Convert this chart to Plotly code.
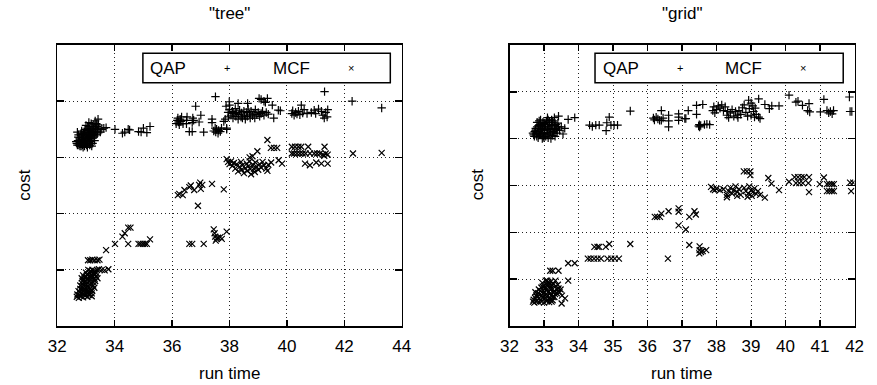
import plotly.graph_objects as go

# ---------------- data (run time, cost in plot units) ----------------
tree_qap = [
    (32.68,3.25),(32.72,3.30),(32.75,3.22),(32.78,3.35),(32.80,3.27),(32.83,3.20),(32.85,3.32),(32.87,3.40),
    (32.90,3.25),(32.92,3.35),(32.95,3.20),(32.95,3.45),(32.98,3.30),(33.00,3.40),(33.02,3.22),(33.03,3.50),
    (33.05,3.33),(33.07,3.27),(33.08,3.44),(33.10,3.55),(33.12,3.38),(33.13,3.22),(33.15,3.48),(33.17,3.30),
    (33.18,3.60),(33.20,3.42),(33.22,3.52),(33.23,3.25),(33.25,3.35),(33.27,3.58),(33.28,3.45),(33.30,3.30),
    (33.32,3.65),(33.33,3.50),(33.35,3.40),(33.38,3.55),(33.40,3.47),(33.42,3.68),(33.45,3.52),(33.50,3.45),
    (33.55,3.50),(33.62,3.52),(33.70,3.53),(32.70,3.45),(32.85,3.47),(33.00,3.57),(33.10,3.62),(32.90,3.18),
    (33.05,3.18),(33.20,3.20),
    (32.66,3.28),(32.70,3.22),(32.73,3.36),(32.76,3.28),(32.79,3.20),(32.82,3.42),(32.84,3.24),(32.86,3.36),
    (32.89,3.30),(32.91,3.42),(32.93,3.27),(32.96,3.38),(32.99,3.24),(33.01,3.33),(33.04,3.42),(33.06,3.24),
    (33.09,3.35),(33.11,3.48),(33.14,3.28),(33.16,3.40),(33.19,3.34),(33.21,3.46),(33.24,3.40),(33.26,3.50),
    (33.29,3.38),(33.31,3.55),(33.34,3.45),(33.36,3.60),(33.39,3.42),(33.43,3.58),(32.74,3.40),(32.97,3.50),
    (33.06,3.52),(32.88,3.22),(33.00,3.28),(33.15,3.25),
    (34.01,3.50),(34.27,3.43),(34.35,3.45),(34.47,3.50),(34.52,3.49),(34.83,3.46),(34.92,3.45),(35.00,3.52),
    (35.12,3.44),(35.23,3.55),
    (36.14,3.60),(36.18,3.66),(36.20,3.70),(36.22,3.63),(36.25,3.58),(36.28,3.68),(36.30,3.64),(36.33,3.72),
    (36.38,3.60),(36.50,3.66),(36.52,3.72),(36.50,3.60),(36.70,3.62),(36.72,3.70),(36.75,3.66),(36.60,3.46),
    (36.70,3.46),(36.82,3.91),(37.00,3.75),(36.94,3.63),(37.10,3.45),(37.39,3.68),(37.39,3.62),(37.51,4.08),
    (37.45,3.47),(37.50,3.52),(37.52,3.45),(37.55,3.50),(37.60,3.43),(37.62,3.48),(37.68,3.46),(37.72,3.52),
    (37.90,3.50),(37.88,3.91),(37.96,3.72),(37.80,3.64),(37.85,3.68),
    (37.95,3.80),(38.00,3.85),(38.05,3.75),(38.10,3.82),(38.12,3.70),(38.15,3.78),(38.20,3.87),(38.22,3.73),
    (38.25,3.80),(38.30,3.68),(38.32,3.76),(38.35,3.84),(38.40,3.72),(38.42,3.79),(38.45,3.70),(38.50,3.82),
    (38.52,3.75),(38.55,3.68),(38.60,3.80),(38.62,3.73),(38.65,3.86),(38.70,3.77),(38.72,3.70),(38.75,3.82),
    (38.80,3.74),(38.85,3.79),(38.88,3.70),(38.90,3.85),(38.95,3.76),(39.00,3.80),(39.05,3.73),(39.10,3.78),
    (39.15,3.82),(39.20,3.75),(39.28,3.80),(39.35,3.77),
    (37.99,3.99),(38.00,3.93),(38.30,3.96),(38.63,3.96),(39.03,4.05),(39.10,4.03),(39.20,4.00),(39.32,4.05),
    (39.25,3.98),(39.49,3.93),(39.54,3.70),(39.77,3.83),(39.70,3.84),(37.90,3.52),
    (40.17,3.78),(40.20,3.83),(40.25,3.75),(40.30,3.80),(40.35,3.77),(40.40,3.82),(40.45,3.76),(40.50,3.93),
    (40.55,3.79),(40.60,3.85),(40.70,3.78),(40.85,3.80),(40.95,3.84),(41.00,3.78),(41.10,3.86),(41.20,3.82),
    (41.25,3.75),(41.30,3.70),(41.35,3.80),(41.40,3.72),(41.42,3.85),(41.31,4.17),(42.27,4.00),(43.30,3.88),
]

tree_mcf = [
    (32.68,0.52),(32.75,0.50),(32.82,0.53),(32.90,0.51),(32.98,0.54),(33.05,0.52),(33.12,0.55),(33.20,0.53),
    (32.78,0.60),(32.85,0.65),(32.92,0.62),(33.00,0.68),(33.08,0.62),(33.15,0.66),(33.22,0.63),(32.80,0.72),
    (32.88,0.75),(32.95,0.78),(33.02,0.74),(33.10,0.80),(33.18,0.76),(33.25,0.72),(32.85,0.85),(32.92,0.82),
    (33.00,0.88),(33.08,0.92),(33.15,0.86),(33.22,0.90),(33.30,0.84),(33.00,0.95),(33.08,1.00),(33.15,0.98),
    (33.22,1.00),(33.30,0.97),(33.38,1.00),(33.45,1.01),(33.55,1.00),(33.65,0.99),(33.78,1.01),(33.20,0.58),
    (33.30,0.92),(32.90,0.90),(33.05,0.58),(33.35,0.88),
    (32.70,0.56),(32.74,0.62),(32.77,0.55),(32.80,0.66),(32.83,0.58),(32.86,0.70),(32.89,0.57),(32.91,0.72),
    (32.94,0.66),(32.97,0.58),(32.99,0.80),(33.01,0.62),(33.04,0.70),(33.06,0.84),(33.09,0.68),(33.11,0.58),
    (33.13,0.74),(33.16,0.82),(33.19,0.64),(33.21,0.86),(33.24,0.78),(33.27,0.94),(33.29,0.68),(33.32,0.80),
    (33.36,0.94),(33.40,0.85),(32.94,0.86),(33.03,0.91),(33.12,0.94),(33.18,0.90),(32.88,0.80),(33.26,0.98),
    (33.07,1.17),(33.15,1.17),(33.22,1.18),(33.30,1.17),(33.40,1.17),(33.47,1.18),
    (33.70,1.35),(34.01,1.46),(34.27,1.59),(34.35,1.65),(34.47,1.75),(34.55,1.75),(34.47,1.46),(34.83,1.46),
    (34.90,1.46),(34.98,1.46),(35.05,1.46),(35.12,1.46),(35.23,1.54),
    (36.20,2.33),(36.25,2.35),(36.37,2.33),(36.43,2.42),(36.60,2.47),(36.65,2.50),(36.77,2.42),(36.94,2.51),
    (37.05,2.51),(37.00,2.44),(36.98,2.55),(37.39,2.53),(37.80,2.43),(36.90,2.14),
    (36.60,1.46),(36.70,1.46),(37.10,1.46),(37.45,1.72),(37.48,1.65),(37.50,1.59),(37.52,1.52),(37.55,1.55),
    (37.60,1.57),(37.68,1.58),(37.73,1.55),(37.90,1.68),
    (37.90,2.97),(37.95,2.92),(38.00,2.88),(38.05,2.93),(38.10,2.85),(38.15,2.90),(38.20,2.80),(38.25,2.88),
    (38.30,2.75),(38.35,2.83),(38.40,2.92),(38.42,2.78),(38.45,2.86),(38.50,2.72),(38.55,2.81),(38.60,2.89),
    (38.62,2.76),(38.65,2.84),(38.70,2.93),(38.72,2.79),(38.75,2.70),(38.80,2.87),(38.85,2.80),(38.88,2.74),
    (38.90,2.91),(38.95,2.83),(39.00,2.78),(39.05,2.88),(39.10,2.82),(39.15,2.92),(39.20,2.86),(39.28,2.80),
    (39.35,2.87),(38.97,3.11),(38.70,3.00),(38.80,3.02),(39.32,3.31),(39.44,3.17),(39.55,3.17),(39.66,3.17),
    (39.71,2.95),(39.83,2.89),(39.32,2.76),(39.45,2.91),
    (40.17,3.19),(40.28,3.19),(40.40,3.19),(40.50,3.19),(40.74,3.19),(40.17,3.07),(40.25,3.07),(40.35,3.07),
    (40.45,3.07),(40.55,3.07),(40.65,3.07),(40.80,3.07),(40.95,3.07),(41.05,3.07),(41.15,3.07),(41.25,3.05),
    (41.35,3.07),(41.42,3.05),(41.30,3.03),(40.63,2.89),(40.80,2.86),(41.02,2.91),(41.20,2.89),(41.42,2.89),
    (41.31,3.19),(42.30,3.07),(43.30,3.08),
]

grid_qap = [
    (32.68,4.12),(32.72,4.05),(32.75,4.18),(32.78,4.10),(32.80,4.25),(32.83,4.02),(32.85,4.15),(32.88,4.30),
    (32.90,4.08),(32.92,4.20),(32.95,4.00),(32.97,4.35),(33.00,4.12),(33.02,4.25),(33.05,4.05),(33.07,4.38),
    (33.10,4.18),(33.12,4.02),(33.15,4.30),(33.17,4.10),(33.20,4.22),(33.22,4.40),(33.25,4.07),(33.27,4.15),
    (33.30,4.28),(33.32,4.05),(33.35,4.20),(33.38,4.12),(33.40,4.33),(33.45,4.18),(33.50,4.25),(33.55,4.10),
    (32.90,4.40),(33.10,4.45),(32.80,4.35),(33.30,4.45),(33.00,4.02),(33.20,4.00),(33.60,4.22),
    (32.70,4.08),(32.73,4.15),(32.76,4.22),(32.79,4.05),(32.82,4.12),(32.84,4.28),(32.87,4.08),(32.89,4.18),
    (32.91,4.28),(32.94,4.12),(32.96,4.22),(32.99,4.05),(33.01,4.18),(33.04,4.30),(33.06,4.12),(33.09,4.25),
    (33.11,4.08),(33.14,4.20),(33.16,4.35),(33.19,4.14),(33.21,4.28),(33.24,4.20),(33.26,4.34),(33.29,4.12),
    (33.31,4.22),(33.34,4.30),(33.37,4.18),(33.42,4.25),(32.86,4.38),(33.00,4.32),(33.12,4.40),(33.25,4.38),
    (33.42,4.48),(33.70,4.41),(33.89,4.45),(34.32,4.29),(34.40,4.26),(34.50,4.29),(34.60,4.29),(34.82,4.34),
    (34.80,4.17),(34.89,4.46),(34.94,4.29),(35.03,4.29),(35.13,4.29),(35.50,4.59),
    (36.17,4.44),(36.20,4.40),(36.25,4.46),(36.30,4.42),(36.35,4.39),(36.40,4.60),(36.40,4.39),(36.45,4.44),
    (36.61,4.50),(36.61,4.38),(36.61,4.25),(36.90,4.53),(36.90,4.46),(36.90,4.39),(37.11,4.43),(37.08,4.43),
    (37.18,4.60),(37.42,4.71),(37.42,4.52),(37.60,4.73),
    (37.48,4.27),(37.51,4.25),(37.54,4.28),(37.50,4.30),(37.65,4.30),(37.72,4.31),(37.80,4.30),
    (37.89,4.60),(37.92,4.68),(37.95,4.55),(38.00,4.62),(38.05,4.70),(38.10,4.65),(38.15,4.72),(38.20,4.60),
    (38.25,4.68),(38.30,4.50),(38.32,4.58),(38.35,4.45),(38.40,4.55),(38.45,4.62),(38.50,4.48),(38.55,4.58),
    (38.60,4.50),(38.62,4.45),(38.65,4.60),(38.70,4.52),(38.75,4.66),(38.80,4.72),(38.85,4.56),(38.90,4.48),
    (38.93,4.82),(38.95,4.64),(39.00,4.76),(39.00,4.50),(39.05,4.70),(39.07,4.58),(39.10,4.46),(39.12,4.65),
    (39.15,4.52),(39.22,4.85),(39.22,4.46),(39.26,4.43),
    (39.40,4.73),(39.53,4.64),(39.60,4.70),(39.81,4.70),(40.10,4.93),(40.30,4.78),(40.36,4.80),(40.49,4.71),
    (40.64,4.60),(40.68,4.75),(40.70,4.57),(41.01,4.57),(41.11,4.84),(41.20,4.60),(41.25,4.55),(41.30,4.58),
    (41.35,4.53),(41.39,4.60),(41.85,4.89),(41.87,4.58),(41.92,4.58),
]

grid_mcf = [
    (32.68,0.52),(32.72,0.50),(32.78,0.53),(32.85,0.51),(32.92,0.52),(33.00,0.50),(33.08,0.53),(33.15,0.51),
    (33.22,0.52),(32.80,0.62),(32.88,0.68),(32.95,0.60),(33.02,0.72),(33.10,0.65),(33.18,0.70),(33.25,0.62),
    (33.32,0.68),(32.75,0.72),(32.85,0.78),(32.92,0.82),(33.00,0.85),(33.08,0.78),(33.15,0.88),(33.22,0.80),
    (33.30,0.75),(33.38,0.78),(33.45,0.72),(32.95,0.92),(33.05,0.97),(33.09,0.97),(33.20,0.95),(33.33,0.97),
    (33.70,0.97),(33.61,0.59),(33.51,0.48),(33.52,0.65),(33.40,0.88),(33.25,0.55),(33.05,0.60),
    (32.70,0.56),(32.74,0.60),(32.80,0.55),(32.83,0.70),(32.86,0.60),(32.90,0.75),(32.93,0.65),(32.97,0.70),
    (33.00,0.58),(33.03,0.80),(33.06,0.68),(33.09,0.88),(33.12,0.72),(33.14,0.58),(33.17,0.80),(33.20,0.65),
    (33.23,0.88),(33.27,0.72),(33.30,0.62),(33.34,0.85),(33.37,0.70),(33.42,0.80),(33.48,0.78),(32.96,0.84),
    (33.12,0.94),(32.78,0.66),(33.18,0.56),(33.28,0.90),
    (33.18,1.18),(33.25,1.18),(33.42,1.18),(33.70,1.34),(33.89,1.34),(34.27,1.44),(34.35,1.44),(34.45,1.44),
    (34.55,1.44),(34.65,1.44),(34.46,1.69),(34.55,1.69),(34.60,1.69),(34.79,1.69),(34.89,1.75),(34.84,1.44),
    (34.95,1.44),(35.05,1.44),(35.17,1.44),(35.50,1.75),
    (36.21,2.33),(36.28,2.33),(36.36,2.33),(36.40,2.40),(36.61,2.45),(36.90,2.51),(36.90,2.44),(36.90,2.15),
    (37.11,2.06),(37.21,2.33),(36.59,1.44),(37.21,1.73),(37.36,2.45),(37.40,2.38),
    (37.51,1.62),(37.50,1.55),(37.55,1.58),(37.60,1.60),(37.70,1.62),(37.51,1.70),
    (37.84,2.97),(37.90,2.92),(37.95,2.90),(38.00,2.93),(38.10,2.90),(38.20,2.92),(38.30,2.80),(38.35,2.88),
    (38.40,2.95),(38.45,2.83),(38.50,2.90),(38.55,2.98),(38.60,2.86),(38.65,2.92),(38.70,2.80),(38.80,2.95),
    (38.85,2.88),(38.90,2.76),(38.92,2.83),(38.95,2.98),(39.00,2.90),(39.02,2.78),(39.05,2.86),(39.10,2.94),
    (39.15,2.82),(39.20,2.88),(39.26,2.80),(38.30,2.75),(38.60,2.78),
    (38.79,3.30),(38.88,3.30),(38.98,3.30),(38.98,3.22),(39.50,3.16),(39.59,3.04),(39.81,2.90),(39.40,2.74),
    (40.10,3.08),(40.26,3.18),(40.36,3.18),(40.46,3.18),(40.54,3.18),(40.30,3.05),(40.40,3.05),(40.50,3.05),
    (40.68,3.18),(40.66,3.05),(40.68,2.86),(40.99,3.03),(41.11,3.17),(41.20,3.03),(41.27,3.03),(41.34,3.03),
    (41.40,3.03),(41.20,2.88),(41.27,2.88),(41.34,2.88),(41.40,2.88),(41.87,3.06),(41.96,3.06),(41.90,2.88),
]

panel_titles = ['"tree"', '"grid"']
series_names = ["QAP", "MCF"]
tree_xticks = [32, 34, 36, 38, 40, 42, 44]
grid_xticks = [32, 33, 34, 35, 36, 37, 38, 39, 40, 41, 42]

# ---------------- figure ----------------
W, H = 877, 385
FONT = "Liberation Sans, Arial, Helvetica, sans-serif"
FS = 17

def px_x(p):
    return p / W

def px_y(p):
    return 1 - p / H

fig = go.Figure()

def add_series(data, symbol, xa, ya, name):
    xs = [p[0] for p in data]
    ys = [p[1] for p in data]
    fig.add_trace(go.Scatter(
        x=xs, y=ys, mode="markers", name=name, xaxis=xa, yaxis=ya,
        showlegend=False,
        marker=dict(symbol=symbol, size=6, color="black",
                    line=dict(color="black", width=1.2)),
    ))

add_series(tree_qap, "cross-thin", "x", "y", "QAP")
add_series(tree_mcf, "x-thin", "x", "y", "MCF")
add_series(grid_qap, "cross-thin", "x2", "y2", "QAP")
add_series(grid_mcf, "x-thin", "x2", "y2", "MCF")

frame_top, frame_bot = 45, 326
ydom = [px_y(frame_bot), px_y(frame_top)]
left_dom = [px_x(49.3), px_x(401)]
right_dom = [px_x(511), px_x(863.3)]

common_x = dict(
    showline=True, linecolor="black", linewidth=1.6, mirror="allticks",
    ticks="inside", ticklen=6, tickcolor="black", tickwidth=1.5,
    showgrid=True, gridcolor="#222222", griddash="1px,3px", gridwidth=1,
    zeroline=False, tickfont=dict(family=FONT, size=FS, color="black"),
    ticklabelstandoff=4,
)
common_y = dict(
    showline=True, linecolor="black", linewidth=1.6, mirror="allticks",
    ticks="inside", ticklen=7, tickcolor="black", tickwidth=1.5,
    showgrid=True, gridcolor="#222222", griddash="1px,3px", gridwidth=1,
    zeroline=False, showticklabels=False, dtick=1, tick0=0,
)

fig.update_layout(
    width=W, height=H, margin=dict(l=0, r=0, t=0, b=0),
    paper_bgcolor="white", plot_bgcolor="white",
    font=dict(family=FONT, size=FS, color="black"),
    xaxis=dict(domain=left_dom, range=[32, 44], tickvals=tree_xticks, anchor="y", **common_x),
    yaxis=dict(domain=ydom, range=[0, 5], anchor="x", **common_y),
    xaxis2=dict(domain=right_dom, range=[32, 42], tickvals=grid_xticks, anchor="y2", **common_x),
    yaxis2=dict(domain=ydom, range=[0, 6], anchor="x2", **common_y),
)

annotations = []
shapes = []

def text(x, y, s, xanchor="center", angle=0, size=FS):
    annotations.append(dict(
        x=px_x(x), y=px_y(y), xref="paper", yref="paper", text=s,
        showarrow=False, xanchor=xanchor, yanchor="middle", textangle=angle,
        font=dict(family=FONT, size=size, color="black"),
    ))

# panel titles
text(225, 13, panel_titles[0])
text(687, 13, panel_titles[1])
# axis titles
text(225, 373, "run time")
text(687, 373, "run time")
text(15, 185, "cost", angle=-90)
text(478, 185, "cost", angle=-90)

# legends
for (bx0, bx1, tq, mq, tm, mm) in [(136.7, 389.3, 142, 222.7, 268, 349),
                                    (598.3, 851.7, 604, 685, 729, 811)]:
    shapes.append(dict(type="rect", xref="paper", yref="paper",
                       x0=px_x(bx0), x1=px_x(bx1), y0=px_y(82.7), y1=px_y(53.3),
                       line=dict(color="black", width=1.5), fillcolor="white", layer="above"))
    text(tq, 68, series_names[0], xanchor="left")
    text(tm, 68, series_names[1], xanchor="left")
    text(mq, 68, "+", size=11)
    text(mm, 68, "×", size=11)

fig.update_layout(annotations=annotations, shapes=shapes)

fig.write_html("out.html",
               config={"displayModeBar": False, "staticPlot": True},
               post_script="document.body.style.margin='0';document.body.style.overflow='hidden';")
